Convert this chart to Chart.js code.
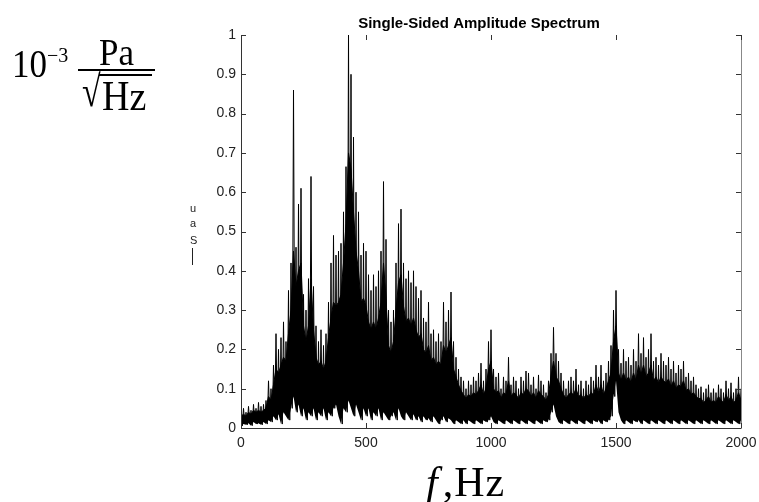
<!DOCTYPE html>
<html>
<head>
<meta charset="utf-8">
<script src="https://cdn.jsdelivr.net/npm/chart.js@4.4.1/dist/chart.umd.min.js"></script>
<style>
  html, body { margin: 0; padding: 0; background: #fff; }
  #wrap { position: relative; width: 759px; height: 502px; overflow: hidden; }
  #c { position: absolute; left: 0; top: 0; }
  .serif { position: absolute; font-family: "Liberation Serif", "Times New Roman", serif; color: #000; white-space: nowrap; }
  .small { position: absolute; font-family: "Liberation Sans", Arial, sans-serif; font-size: 11px; line-height: 11px; color: #222; }
</style>
</head>
<body>
<div id="wrap">
  <canvas id="c" width="759" height="502"></canvas>
  <!-- y unit label -->
  <div class="serif" style="left:12px; top:49px; font-size:35px; line-height:35px; transform:scale(1,1.12); transform-origin:0 100%;">10</div>
  <div class="serif" style="left:47px; top:45px; font-size:20px; line-height:20px;">−3</div>
  <div class="serif" style="left:99px; top:37px; font-size:35px; line-height:35px; transform:scale(1,1.1); transform-origin:0 100%;">Pa</div>
  <div style="position:absolute; left:78px; top:69px; width:77px; height:2px; background:#000;"></div>
  <div class="serif" style="left:82px; top:80px; font-size:34px; line-height:34px; transform:scale(1,1.3); transform-origin:0 100%;">√</div>
  <div style="position:absolute; left:99px; top:74px; width:53px; height:2px; background:#000;"></div>
  <div class="serif" style="left:102px; top:79px; font-size:38px; line-height:38px; transform:scale(1,1.1); transform-origin:0 100%;">Hz</div>
  <!-- garbled small y label -->
  <div class="small" style="left:190px; top:203px;">u</div>
  <div class="small" style="left:190px; top:218px;">a</div>
  <div class="small" style="left:190px; top:235px;">S</div>
  <div style="position:absolute; left:192px; top:248px; width:1px; height:17px; background:#222;"></div>
  <!-- x unit label -->
  <div class="serif" style="left:426px; top:461px; font-size:42px; line-height:42px; letter-spacing:1px;"><i>f</i><span style="margin-left:4px">,Hz</span></div>
</div>
<script>
// ---- data (10 Hz bins, 0..2000 Hz) ----
const freqStep = 10;
// highest spike in each bin
const upperEnv = [
  0.03,0.05,0.04,0.055,0.045,0.06,0.05,0.065,0.055,0.06,
  0.07,0.12,0.10,0.16,0.24,0.20,0.23,0.27,0.22,0.35,
  0.42,0.86,0.46,0.57,0.61,0.34,0.30,0.38,0.64,0.36,
  0.26,0.22,0.25,0.21,0.24,0.32,0.42,0.49,0.44,0.45,
  0.47,0.55,0.665,1.0,0.9,0.74,0.6,0.55,0.44,0.47,
  0.45,0.39,0.35,0.39,0.36,0.40,0.45,0.627,0.48,0.30,
  0.27,0.30,0.42,0.52,0.557,0.42,0.38,0.40,0.37,0.40,
  0.36,0.33,0.35,0.28,0.27,0.32,0.24,0.25,0.22,0.24,
  0.22,0.32,0.27,0.30,0.346,0.22,0.18,0.15,0.13,0.12,
  0.10,0.12,0.11,0.13,0.12,0.14,0.165,0.12,0.15,0.22,
  0.25,0.15,0.13,0.14,0.10,0.13,0.12,0.18,0.11,0.13,
  0.12,0.10,0.13,0.12,0.145,0.14,0.11,0.13,0.10,0.135,
  0.12,0.11,0.09,0.12,0.19,0.256,0.19,0.17,0.14,0.12,
  0.10,0.12,0.13,0.12,0.15,0.11,0.12,0.10,0.12,0.11,
  0.13,0.12,0.16,0.13,0.16,0.12,0.14,0.17,0.21,0.30,
  0.35,0.20,0.165,0.20,0.17,0.18,0.16,0.20,0.17,0.24,
  0.19,0.23,0.18,0.20,0.24,0.17,0.18,0.16,0.19,0.17,
  0.16,0.18,0.15,0.17,0.14,0.16,0.15,0.17,0.13,0.14,
  0.12,0.13,0.11,0.10,0.105,0.09,0.10,0.11,0.09,0.10,
  0.09,0.11,0.10,0.09,0.12,0.10,0.115,0.09,0.10,0.13,
  0.10
];
// level up to which the trace looks solid black in each bin
const bodyEnv = [
  0.03,0.035,0.03,0.04,0.035,0.045,0.04,0.045,0.04,0.045,
  0.05,0.08,0.07,0.11,0.15,0.14,0.16,0.18,0.17,0.24,
  0.30,0.45,0.36,0.40,0.42,0.26,0.22,0.26,0.38,0.25,
  0.18,0.16,0.17,0.15,0.17,0.23,0.28,0.32,0.31,0.32,
  0.34,0.42,0.52,0.70,0.66,0.55,0.45,0.40,0.32,0.33,
  0.31,0.27,0.25,0.27,0.25,0.28,0.32,0.42,0.33,0.21,
  0.19,0.22,0.30,0.37,0.39,0.31,0.27,0.28,0.26,0.28,
  0.25,0.23,0.24,0.20,0.19,0.21,0.17,0.18,0.16,0.17,
  0.16,0.21,0.19,0.21,0.23,0.15,0.13,0.11,0.095,0.085,
  0.075,0.085,0.08,0.09,0.085,0.095,0.11,0.085,0.10,0.15,
  0.17,0.10,0.09,0.095,0.075,0.09,0.085,0.12,0.08,0.09,
  0.085,0.075,0.09,0.085,0.10,0.095,0.08,0.09,0.075,0.095,
  0.085,0.08,0.07,0.085,0.13,0.17,0.13,0.12,0.10,0.085,
  0.075,0.085,0.09,0.085,0.10,0.08,0.085,0.075,0.085,0.08,
  0.09,0.085,0.11,0.09,0.11,0.085,0.10,0.12,0.14,0.22,
  0.26,0.14,0.12,0.14,0.12,0.13,0.115,0.14,0.12,0.16,
  0.135,0.16,0.13,0.14,0.16,0.12,0.13,0.115,0.13,0.12,
  0.115,0.125,0.105,0.12,0.10,0.11,0.105,0.12,0.095,0.10,
  0.085,0.09,0.08,0.075,0.075,0.065,0.07,0.08,0.065,0.07,
  0.065,0.08,0.07,0.065,0.085,0.07,0.08,0.065,0.07,0.09,
  0.07
];
// lowest dip in each bin
const lowerEnv = [
  0.005,0.01,0.008,0.012,0.006,0.015,0.01,0.012,0.008,0.015,
  0.01,0.02,0.015,0.03,0.02,0.035,0.01,0.04,0.03,0.02,
  0.05,0.08,0.04,0.06,0.03,0.05,0.02,0.04,0.03,0.05,
  0.02,0.04,0.03,0.05,0.02,0.04,0.03,0.05,0.06,0.03,
  0.01,0.05,0.04,0.07,0.05,0.03,0.06,0.04,0.02,0.05,
  0.03,0.05,0.02,0.04,0.03,0.05,0.02,0.04,0.03,0.02,
  0.03,0.04,0.02,0.05,0.03,0.02,0.04,0.03,0.02,0.035,
  0.02,0.03,0.015,0.03,0.02,0.025,0.015,0.03,0.02,0.01,
  0.02,0.03,0.015,0.025,0.02,0.01,0.02,0.015,0.01,0.02,
  0.01,0.02,0.015,0.01,0.02,0.015,0.01,0.02,0.015,0.02,
  0.03,0.015,0.01,0.02,0.015,0.01,0.02,0.015,0.01,0.02,
  0.015,0.01,0.02,0.015,0.01,0.02,0.015,0.01,0.02,0.015,
  0.01,0.02,0.015,0.02,0.04,0.06,0.03,0.015,0.01,0.02,
  0.015,0.01,0.02,0.015,0.01,0.02,0.015,0.01,0.02,0.015,
  0.01,0.02,0.015,0.02,0.01,0.02,0.015,0.02,0.03,0.08,
  0.12,0.04,0.02,0.01,0.02,0.015,0.01,0.02,0.015,0.02,
  0.01,0.02,0.015,0.01,0.02,0.015,0.01,0.02,0.015,0.01,
  0.02,0.015,0.01,0.02,0.015,0.01,0.02,0.015,0.01,0.02,
  0.015,0.01,0.02,0.015,0.01,0.02,0.015,0.01,0.02,0.015,
  0.01,0.02,0.015,0.01,0.02,0.015,0.01,0.02,0.015,0.01,
  0.02
];
const xTickValues = [0, 500, 1000, 1500, 2000];
const xTickLabels = ['0', '500', '1000', '1500', '2000'];
const yTickValues = [0, 0.1, 0.2, 0.3, 0.4, 0.5, 0.6, 0.7, 0.8, 0.9, 1];
const yTickLabels = ['0', '0.1', '0.2', '0.3', '0.4', '0.5', '0.6', '0.7', '0.8', '0.9', '1'];
const titleText = 'Single-Sided Amplitude Spectrum';

// spike trace: alternate bin maxima and minima
const spikePts = [];
const bodyPts = [];
const floorPts = [];
for (let i = 0; i < upperEnv.length; i++) {
  const f = i * freqStep;
  spikePts.push({ x: f, y: upperEnv[i] });
  if (i < upperEnv.length - 1) spikePts.push({ x: f + freqStep / 2, y: lowerEnv[i] });
  bodyPts.push({ x: f, y: bodyEnv[i] });
  floorPts.push({ x: f, y: lowerEnv[i] });
}

const framePlugin = {
  id: 'frame',
  afterLayout(chart) {
    // centre the title where the reference has it
    if (chart.titleBlock) chart.titleBlock.left = 217;
  },
  afterDatasetsDraw(chart) {
    const { ctx, chartArea: { left, right, top, bottom }, scales: { x, y } } = chart;
    ctx.save();
    ctx.lineWidth = 1;
    ctx.strokeStyle = '#333';
    ctx.beginPath();
    ctx.moveTo(left + 0.5, top);
    ctx.lineTo(left + 0.5, bottom + 0.5);
    ctx.lineTo(right + 0.5, bottom + 0.5);
    ctx.stroke();
    ctx.strokeStyle = '#888';
    ctx.beginPath();
    ctx.moveTo(right + 0.5, top);
    ctx.lineTo(right + 0.5, bottom + 0.5);
    ctx.stroke();
    ctx.strokeStyle = '#333';
    ctx.beginPath();
    yTickValues.forEach(v => {
      const py = Math.round(y.getPixelForValue(v)) + 0.5;
      ctx.moveTo(left, py); ctx.lineTo(left + 5, py);
      ctx.moveTo(right, py); ctx.lineTo(right - 5, py);
    });
    xTickValues.forEach(v => {
      const px = Math.round(x.getPixelForValue(v)) + 0.5;
      ctx.moveTo(px, bottom); ctx.lineTo(px, bottom - 5);
      ctx.moveTo(px, top); ctx.lineTo(px, top + 5);
    });
    ctx.stroke();
    ctx.restore();
  }
};

new Chart(document.getElementById('c'), {
  type: 'line',
  data: {
    datasets: [
      { data: spikePts, borderColor: '#000', borderWidth: 1, pointRadius: 0, tension: 0, fill: false },
      { data: bodyPts, borderColor: '#000', borderWidth: 1, backgroundColor: '#000', pointRadius: 0, tension: 0, fill: 2 },
      { data: floorPts, borderColor: 'rgba(0,0,0,0)', borderWidth: 0, pointRadius: 0, tension: 0, fill: false }
    ]
  },
  options: {
    responsive: false,
    animation: false,
    devicePixelRatio: 1,
    layout: { padding: { left: 180, right: 18, top: 0, bottom: 0 } },
    plugins: {
      legend: { display: false },
      tooltip: { enabled: false },
      title: {
        display: true,
        text: titleText,
        color: '#000',
        font: { family: 'Liberation Sans, Arial, sans-serif', size: 15, weight: 'bold' },
        padding: { top: 15, bottom: 2 }
      }
    },
    scales: {
      x: {
        type: 'linear',
        min: 0,
        max: 2000,
        grid: { display: false, drawTicks: false },
        border: { display: false },
        afterBuildTicks(scale) { scale.ticks = xTickValues.map(v => ({ value: v })); },
        afterFit(scale) { scale.height = 74; scale.paddingLeft = 0; scale.paddingRight = 0; },
        ticks: {
          color: '#222',
          padding: 7,
          maxRotation: 0,
          font: { family: 'Liberation Sans, Arial, sans-serif', size: 14 },
          callback: (v, i) => xTickLabels[i]
        }
      },
      y: {
        type: 'linear',
        min: 0,
        max: 1,
        grid: { display: false, drawTicks: false },
        border: { display: false },
        afterBuildTicks(scale) { scale.ticks = yTickValues.map(v => ({ value: v })); },
        afterFit(scale) { scale.width = 61; },
        ticks: {
          color: '#222',
          padding: 5,
          font: { family: 'Liberation Sans, Arial, sans-serif', size: 14 },
          callback: (v, i) => yTickLabels[i]
        }
      }
    }
  },
  plugins: [framePlugin]
});
</script>
</body>
</html>
